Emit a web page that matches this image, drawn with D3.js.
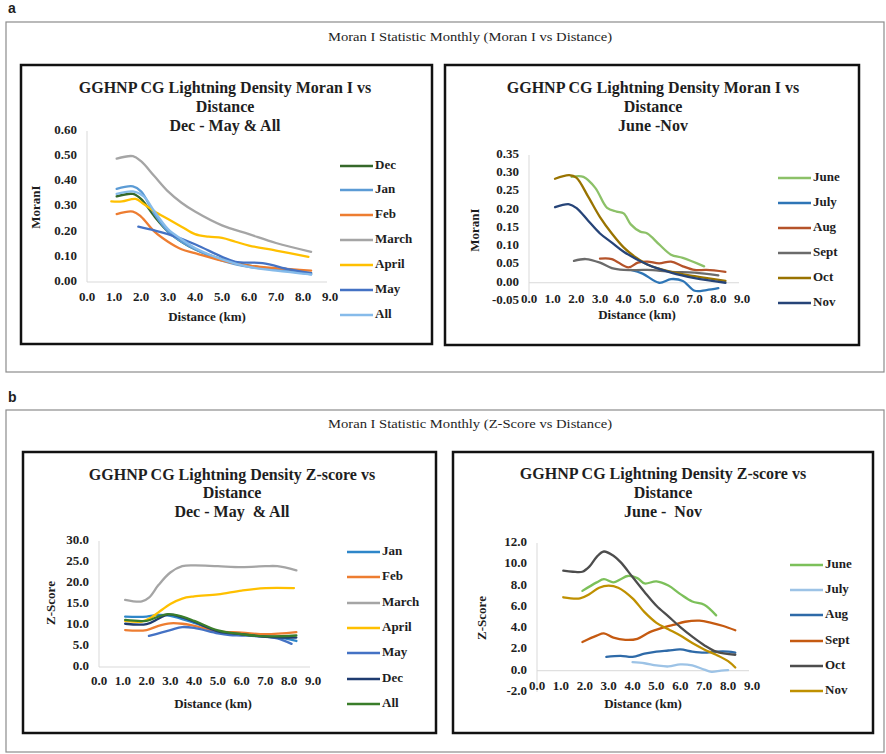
<!DOCTYPE html>
<html>
<head>
<meta charset="utf-8">
<script src="https://cdn.jsdelivr.net/npm/d3@7"></script>
<style>
body { margin: 0; background: #fff; }
svg text { font-family: 'Liberation Serif', 'Times New Roman', serif; font-weight: bold; fill: #1e1e1e; }
</style>
</head>
<body>
<svg id="chart" width="886" height="754"></svg>
<script>
'use strict';

// ---- data: [distance km, value] pairs ----
const moranDecMayNames = ['Dec', 'Jan', 'Feb', 'March', 'April', 'May', 'All'];
const moranDec = [[1.1,0.34],[1.7,0.35],[2.0,0.33],[2.5,0.26],[3.0,0.2],[3.5,0.16],[4.0,0.13],[5.0,0.09],[6.0,0.065],[7.0,0.05],[8.3,0.035]];
const moranJan = [[1.1,0.37],[1.7,0.38],[2.0,0.36],[2.5,0.27],[3.0,0.2],[3.5,0.16],[4.0,0.13],[5.0,0.085],[6.0,0.06],[7.0,0.05],[8.3,0.03]];
const moranFeb = [[1.1,0.27],[1.7,0.28],[2.0,0.26],[2.5,0.2],[3.0,0.16],[3.5,0.13],[4.0,0.115],[5.0,0.085],[6.0,0.065],[7.0,0.055],[8.3,0.045]];
const moranMarch = [[1.1,0.49],[1.7,0.5],[2.0,0.48],[2.5,0.42],[3.0,0.36],[3.5,0.315],[4.0,0.28],[5.0,0.225],[6.0,0.19],[7.0,0.155],[8.3,0.12]];
const moranApril = [[0.9,0.32],[1.3,0.32],[1.8,0.33],[2.1,0.31],[2.5,0.28],[3.0,0.25],[3.5,0.22],[4.0,0.19],[4.5,0.18],[5.0,0.175],[5.5,0.16],[6.0,0.145],[7.0,0.125],[8.2,0.1]];
const moranMay = [[1.9,0.22],[2.5,0.205],[3.0,0.19],[4.0,0.15],[5.0,0.1],[5.5,0.08],[6.5,0.075],[7.5,0.05],[8.3,0.035]];
const moranAll = [[1.1,0.35],[1.7,0.36],[2.1,0.34],[2.5,0.28],[3.0,0.21],[3.5,0.17],[4.0,0.135],[5.0,0.09],[6.0,0.06],[7.0,0.045],[8.3,0.03]];

const moranJunNovNames = ['June', 'July', 'Aug', 'Sept', 'Oct', 'Nov'];
const moranJune = [[1.8,0.29],[2.3,0.29],[2.8,0.26],[3.3,0.205],[3.7,0.195],[4.0,0.19],[4.3,0.16],[4.7,0.14],[5.0,0.135],[5.5,0.105],[6.0,0.077],[6.5,0.068],[7.4,0.045]];
const moranJuly = [[4.3,0.035],[4.8,0.025],[5.5,0.0],[6.0,0.01],[6.5,0.005],[7.0,-0.022],[7.5,-0.02],[8.0,-0.015]];
const moranAug = [[3.0,0.066],[3.5,0.065],[4.2,0.042],[4.6,0.055],[5.0,0.058],[5.5,0.053],[6.0,0.058],[6.5,0.045],[7.0,0.035],[7.5,0.035],[8.3,0.03]];
const moranSept = [[1.9,0.06],[2.4,0.065],[3.0,0.055],[3.5,0.04],[4.0,0.035],[5.0,0.035],[6.0,0.03],[7.0,0.028],[8.0,0.02]];
const moranOct = [[1.1,0.285],[1.7,0.295],[2.0,0.288],[2.5,0.236],[3.0,0.18],[3.5,0.135],[4.0,0.097],[4.5,0.07],[5.0,0.05],[6.0,0.03],[7.0,0.018],[8.3,0.005]];
const moranNov = [[1.1,0.207],[1.7,0.215],[2.0,0.205],[2.5,0.17],[3.0,0.135],[3.5,0.11],[4.0,0.085],[5.0,0.05],[6.0,0.028],[7.0,0.013],[8.3,0.0]];

const zDecMayNames = ['Jan', 'Feb', 'March', 'April', 'May', 'Dec', 'All'];
const zJan = [[1.1,12.0],[2.0,12.0],[2.5,12.4],[3.0,12.2],[4.0,10.5],[5.0,8.5],[6.0,7.8],[7.0,7.3],[7.8,6.8],[8.3,6.2]];
const zFeb = [[1.1,8.8],[2.0,8.8],[2.5,9.8],[3.0,10.4],[3.5,10.3],[4.0,9.8],[5.0,8.5],[6.0,8.2],[7.0,7.8],[8.3,8.3]];
const zMarch = [[1.1,16.0],[1.8,15.6],[2.1,16.5],[2.5,19.5],[3.0,22.5],[3.5,24.0],[4.0,24.2],[5.0,24.0],[6.0,23.8],[7.0,24.0],[7.5,24.0],[8.3,23.0]];
const zApril = [[1.1,11.0],[1.8,10.8],[2.2,11.8],[2.5,13.0],[3.0,15.0],[3.5,16.3],[4.0,16.8],[5.0,17.3],[6.0,18.2],[7.0,18.8],[8.2,18.8]];
const zMay = [[2.1,7.4],[3.0,8.8],[3.5,9.5],[4.0,9.3],[5.0,8.0],[5.5,7.6],[6.0,7.5],[7.0,7.2],[7.5,6.8],[8.1,5.5]];
const zDec = [[1.1,10.3],[2.0,10.2],[2.5,11.5],[2.9,12.5],[3.5,11.8],[4.0,10.8],[5.0,8.5],[6.0,7.8],[7.0,7.2],[8.3,7.0]];
const zAll = [[1.1,11.2],[2.0,11.0],[2.5,12.0],[2.9,12.6],[3.5,12.0],[4.0,11.0],[5.0,8.7],[6.0,7.8],[7.0,7.3],[8.3,7.5]];

const zJunNovNames = ['June', 'July', 'Aug', 'Sept', 'Oct', 'Nov'];
const zJune = [[1.9,7.5],[2.5,8.3],[2.8,8.6],[3.2,8.3],[3.5,8.6],[3.8,8.9],[4.2,8.7],[4.5,8.2],[5.0,8.4],[5.5,8.0],[6.0,7.2],[6.5,6.5],[7.0,6.2],[7.5,5.2]];
const zJuly = [[4.0,0.8],[4.5,0.7],[5.0,0.5],[5.5,0.4],[6.0,0.6],[6.5,0.5],[7.0,0.1],[7.3,-0.1],[7.7,0.0],[8.0,0.05]];
const zAug = [[2.9,1.3],[3.5,1.4],[4.0,1.3],[4.5,1.6],[5.0,1.8],[5.5,1.9],[6.0,2.0],[6.5,1.8],[7.0,1.7],[7.5,1.8],[8.0,1.8],[8.3,1.7]];
const zSept = [[1.9,2.7],[2.5,3.3],[2.8,3.5],[3.2,3.1],[3.7,2.9],[4.2,3.0],[4.7,3.6],[5.2,4.0],[5.7,4.3],[6.2,4.6],[6.8,4.7],[7.3,4.5],[7.8,4.2],[8.3,3.8]];
const zOct = [[1.1,9.4],[1.5,9.3],[1.9,9.3],[2.2,9.8],[2.5,10.7],[2.8,11.2],[3.2,10.8],[3.5,10.2],[4.0,8.8],[4.5,7.4],[5.0,6.1],[5.5,5.1],[6.0,4.1],[6.5,3.2],[7.0,2.4],[7.5,1.8],[8.3,1.5]];
const zNov = [[1.1,6.9],[1.8,6.8],[2.2,7.2],[2.6,7.8],[3.0,8.0],[3.4,7.8],[4.0,6.8],[4.5,5.5],[5.0,4.5],[5.5,3.9],[6.0,3.3],[6.5,2.6],[7.0,2.0],[7.5,1.5],[8.0,0.9],[8.3,0.3]];

const xDomain = [0, 9];

// ---- layout ----
const panels = [
    {
        box: [21, 65, 432, 344],
        title: ['GGHNP CG Lightning Density Moran I vs', 'Distance', 'Dec - May & All'],
        titleX: 225, titleY: [89, 108, 127],
        xRange: [87, 330], yRange: [282, 131], yDomain: [0, 0.6], yCount: 6, fmt: '.2f',
        tickY: 298, xTitle: [207, 318], yTitle: 'MoranI', yTitlePos: [37, 207],
        legendX: 340, legendY: [166, 190, 215, 240, 265, 290, 315],
        names: moranDecMayNames,
        series: [moranDec, moranJan, moranFeb, moranMarch, moranApril, moranMay, moranAll],
        colors: ['#35682a', '#5b9bd5', '#ed7d31', '#a5a5a5', '#ffc000', '#4472c4', '#86bbea']
    },
    {
        box: [445, 65, 859, 345],
        title: ['GGHNP CG Lightning Density Moran I vs', 'Distance', 'June -Nov'],
        titleX: 653, titleY: [89, 108, 127],
        xRange: [529, 742], yRange: [301, 155], yDomain: [-0.05, 0.35], yCount: 8, fmt: '.2f',
        tickY: 300, xTitle: [637, 316], yTitle: 'MoranI', yTitlePos: [476, 230],
        legendX: 778, legendY: [178, 203, 228, 253, 278, 303],
        names: moranJunNovNames,
        series: [moranJune, moranJuly, moranAug, moranSept, moranOct, moranNov],
        colors: ['#8cc168', '#2e75b6', '#b5532a', '#6b6b6b', '#997300', '#264478']
    },
    {
        box: [23, 452, 436, 733],
        title: ['GGHNP CG Lightning Density Z-score vs', 'Distance', 'Dec - May  & All'],
        titleX: 232, titleY: [476, 494, 513],
        xRange: [99, 313], yRange: [667, 541], yDomain: [0, 30], yCount: 6, fmt: '.1f',
        tickY: 682, xTitle: [213, 705], yTitle: 'Z-Score', yTitlePos: [52, 603],
        legendX: 347, legendY: [552, 577, 603, 628, 653, 679, 704],
        names: zDecMayNames,
        series: [zJan, zFeb, zMarch, zApril, zMay, zDec, zAll],
        colors: ['#2e86c9', '#ed7d31', '#a5a5a5', '#ffc000', '#4472c4', '#1f3b70', '#3a7d2a']
    },
    {
        box: [453, 452, 873, 733],
        title: ['GGHNP CG Lightning Density Z-score vs', 'Distance', 'June -  Nov'],
        titleX: 663, titleY: [475, 494, 513],
        xRange: [537, 752], yRange: [692, 543], yDomain: [-2, 12], yCount: 7, fmt: '.1f',
        tickY: 687, xTitle: [643, 705], yTitle: 'Z-Score', yTitlePos: [483, 618],
        legendX: 790, legendY: [565, 590, 615, 641, 666, 691],
        names: zJunNovNames,
        series: [zJune, zJuly, zAug, zSept, zOct, zNov],
        colors: ['#7cc05a', '#9dc3e6', '#2e6aa8', '#c55a11', '#4d4d4d', '#bf9000']
    }
];

const vis = d3.select('#chart');

// outer frames with figure labels and headers
const frames = [
    {label: 'a', labelY: 13, rect: [6, 22, 878, 350], head: 'Moran I Statistic Monthly (Moran I vs Distance)', headY: 41},
    {label: 'b', labelY: 402, rect: [6, 410, 878, 342], head: 'Moran I Statistic Monthly (Z-Score vs Distance)', headY: 428}
];

frames.forEach(f => {
    vis.append('text')
        .attr('x', 8).attr('y', f.labelY)
        .style('font-family', "'Liberation Sans', Arial, sans-serif")
        .style('font-size', '14px')
        .text(f.label);
    vis.append('rect')
        .attr('x', f.rect[0]).attr('y', f.rect[1])
        .attr('width', f.rect[2]).attr('height', f.rect[3])
        .attr('fill', 'none').attr('stroke', '#8c8c8c').attr('stroke-width', 1.2);
    vis.append('text')
        .attr('x', 328).attr('y', f.headY)
        .attr('textLength', 284).attr('lengthAdjust', 'spacingAndGlyphs')
        .style('font-weight', 'normal')
        .style('font-size', '13px')
        .text(f.head);
});

// Excel style labels use a plain hyphen for negatives
const fmtTick = (spec) => (d) => d3.format(spec)(d).replace('\u2212', '-');

panels.forEach(p => {
    const g = vis.append('g');

    g.append('rect')
        .attr('x', p.box[0]).attr('y', p.box[1])
        .attr('width', p.box[2] - p.box[0]).attr('height', p.box[3] - p.box[1])
        .attr('fill', '#fff').attr('stroke', '#111').attr('stroke-width', 2.5);

    g.selectAll('.title')
        .data(p.title)
        .enter().append('text')
        .attr('x', p.titleX)
        .attr('y', (d, i) => p.titleY[i])
        .attr('text-anchor', 'middle')
        .attr('dominant-baseline', 'middle')
        .style('font-size', '16px')
        .style('white-space', 'pre')
        .text(d => d);

    const x = d3.scaleLinear().domain(xDomain).range(p.xRange);
    const y = d3.scaleLinear().domain(p.yDomain).range(p.yRange);

    // axis lines
    g.append('line')
        .attr('x1', x(0)).attr('x2', x(0))
        .attr('y1', y(p.yDomain[0])).attr('y2', y(p.yDomain[1]))
        .attr('stroke', '#d9d9d9');
    g.append('line')
        .attr('x1', x(0)).attr('x2', x(9) - 3)
        .attr('y1', y(0)).attr('y2', y(0))
        .attr('stroke', '#d9d9d9');

    // tick labels
    g.selectAll('.ytick')
        .data(y.ticks(p.yCount))
        .enter().append('text')
        .attr('x', x(0) - 10)
        .attr('y', d => y(d))
        .attr('text-anchor', 'end')
        .attr('dominant-baseline', 'middle')
        .style('font-size', '13px')
        .text(fmtTick(p.fmt));

    g.selectAll('.xtick')
        .data(x.ticks(9))
        .enter().append('text')
        .attr('x', d => x(d))
        .attr('y', p.tickY)
        .attr('text-anchor', 'middle')
        .attr('dominant-baseline', 'middle')
        .style('font-size', '13px')
        .text(fmtTick('.1f'));

    g.append('text')
        .attr('x', p.xTitle[0]).attr('y', p.xTitle[1])
        .attr('text-anchor', 'middle')
        .attr('dominant-baseline', 'middle')
        .style('font-size', '13px')
        .text('Distance (km)');

    g.append('text')
        .attr('transform', `translate(${p.yTitlePos[0]},${p.yTitlePos[1]}) rotate(-90)`)
        .attr('text-anchor', 'middle')
        .attr('dominant-baseline', 'middle')
        .style('font-size', '13px')
        .text(p.yTitle);

    // series
    const line = d3.line()
        .x(d => x(d[0]))
        .y(d => y(d[1]))
        .curve(d3.curveCatmullRom.alpha(0.5));

    g.selectAll('.series')
        .data(p.series)
        .enter().append('path')
        .attr('d', line)
        .attr('fill', 'none')
        .attr('stroke', (d, i) => p.colors[i])
        .attr('stroke-width', 2.3)
        .attr('stroke-linejoin', 'round')
        .attr('stroke-linecap', 'round');

    // legend
    const leg = g.selectAll('.legend')
        .data(p.names)
        .enter().append('g')
        .attr('transform', (d, i) => `translate(${p.legendX},${p.legendY[i]})`);
    leg.append('line')
        .attr('x1', 0).attr('x2', 33)
        .attr('stroke', (d, i) => p.colors[i])
        .attr('stroke-width', 2.6);
    leg.append('text')
        .attr('x', 35)
        .attr('dominant-baseline', 'middle')
        .style('font-size', '13px')
        .text(d => d);
});
</script>
</body>
</html>
